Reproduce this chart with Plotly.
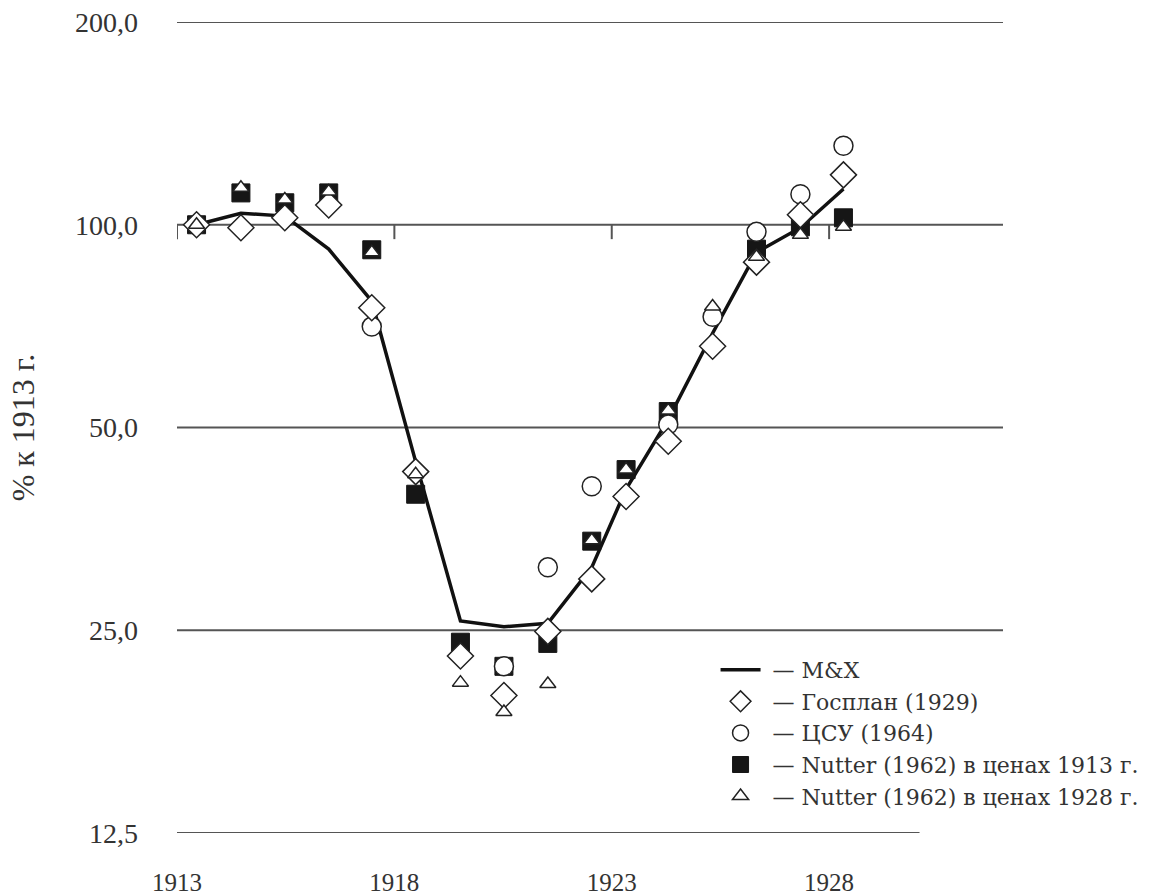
import math
import plotly.graph_objects as go

# x positions (years, as plotted) for the 16 observations 1913..1928
x_pos = [1913.45, 1914.47, 1915.48, 1916.49, 1917.48, 1918.49, 1919.52, 1920.52,
         1921.53, 1922.54, 1923.33, 1924.30, 1925.32, 1926.33, 1927.34, 1928.33]

mx = [100, 104, 103, 92, 77, 44.5, 25.8, 25.3, 25.6, 31, 40.5, 51.4, 69, 91, 99, 113]
gosplan = [100, 99, 102.4, 107, 75.3, 43, 22.9, 20, 24.9, 29.8, 39.5, 47.7, 66, 88, 103.5, 118.6]
csu = [100, None, None, None, 70.6, None, None, 22.1, 31, 40.9, None, 50.5, 73, 97.6, 111, 131]
nutter13 = [100, 111.5, 107.8, 111.5, 91.8, 39.8, 24, 22.1, 23.9, 33.9, 43.3, 52.8, None, 92, 99.3, 102.4]
nutter28 = [100, 113.5, 109, 112, 91, 42.6, 20.9, 18.9, 20.8, 34, 43.3, 53, 75.6, 89.6, 96.6, 99.3]

y_ticks = [12.5, 25, 50, 100, 200]
y_labels = ["12,5", "25,0", "50,0", "100,0", "200,0"]
x_ticks = [1913, 1918, 1923, 1928]
x_labels = ["1913", "1918", "1923", "1928"]

FONT = "Liberation Serif, Times New Roman, serif"
LFONT = "DejaVu Serif, Liberation Serif, serif"
TXT = "#333333"
GRID = "#555555"
NB = "\u00a0"

fig = go.Figure()

fig.add_trace(go.Scatter(x=x_pos, y=mx, mode="lines", name=NB + "— M&X", legendrank=1,
                         line=dict(color="#111111", width=3.5)))
fig.add_trace(go.Scatter(x=x_pos, y=nutter13, mode="markers",
                         name=NB + "— Nutter (1962) в ценах 1913 г.", legendrank=4,
                         marker=dict(symbol="square", size=18, color="#161616",
                                     line=dict(color="#161616", width=1))))
fig.add_trace(go.Scatter(x=x_pos, y=csu, mode="markers", name=NB + "— ЦСУ (1964)", legendrank=3,
                         marker=dict(symbol="circle", size=19, color="white",
                                     line=dict(color="#222222", width=1.5))))
fig.add_trace(go.Scatter(x=x_pos, y=gosplan, mode="markers", name=NB + "— Госплан (1929)", legendrank=2,
                         marker=dict(symbol="diamond", size=20, color="white",
                                     line=dict(color="#222222", width=1.5))))
fig.add_trace(go.Scatter(x=x_pos, y=nutter28, mode="markers",
                         name=NB + "— Nutter (1962) в ценах 1928 г.", legendrank=5,
                         marker=dict(symbol="triangle-up", size=14, color="white",
                                     line=dict(color="#222222", width=1.5))))

# horizontal reference lines at the tick levels
shapes = []
for v in y_ticks:
    x_end = 1930.08 if v == 12.5 else 1932
    shapes.append(dict(type="line", xref="x", yref="y", x0=1913, x1=x_end, y0=v, y1=v,
                       line=dict(color=GRID, width=2), layer="below"))
# small tick marks hanging from the 100 line
for t in x_ticks:
    shapes.append(dict(type="line", xref="x", yref="y", x0=t, x1=t, y0=100, y1=95.2,
                       line=dict(color=GRID, width=2), layer="below"))

fig.update_layout(
    width=1166, height=895,
    margin=dict(l=177, r=163, t=22, b=62),
    paper_bgcolor="white", plot_bgcolor="white",
    font=dict(family=FONT, color=TXT, size=24),
    shapes=shapes,
    showlegend=True,
    legend=dict(x=0.652, y=0.227, xanchor="left", yanchor="top",
                bgcolor="rgba(0,0,0,0)", font=dict(size=22, family=LFONT, color=TXT),
                tracegroupgap=0, itemwidth=40),
    xaxis=dict(range=[1913, 1932], tickvals=x_ticks, ticktext=x_labels, automargin=False,
               showgrid=False, zeroline=False, showline=False, ticks="",
               tickfont=dict(size=25, family=FONT, color=TXT), ticklabelstandoff=32),
    yaxis=dict(type="log", range=[math.log10(12.5), math.log10(200)], automargin=False,
               tickvals=y_ticks, ticktext=y_labels, showgrid=False, zeroline=False,
               showline=False, ticks="", ticklabelstandoff=38,
               tickfont=dict(size=28, family=FONT, color=TXT),
               title=dict(text="% к 1913 г.", standoff=30,
                          font=dict(size=32, family=FONT, color=TXT))),
)

fig.write_html("out.html", config={"displayModeBar": False},
               post_script="document.body.style.margin='0';document.body.style.overflow='hidden';")
